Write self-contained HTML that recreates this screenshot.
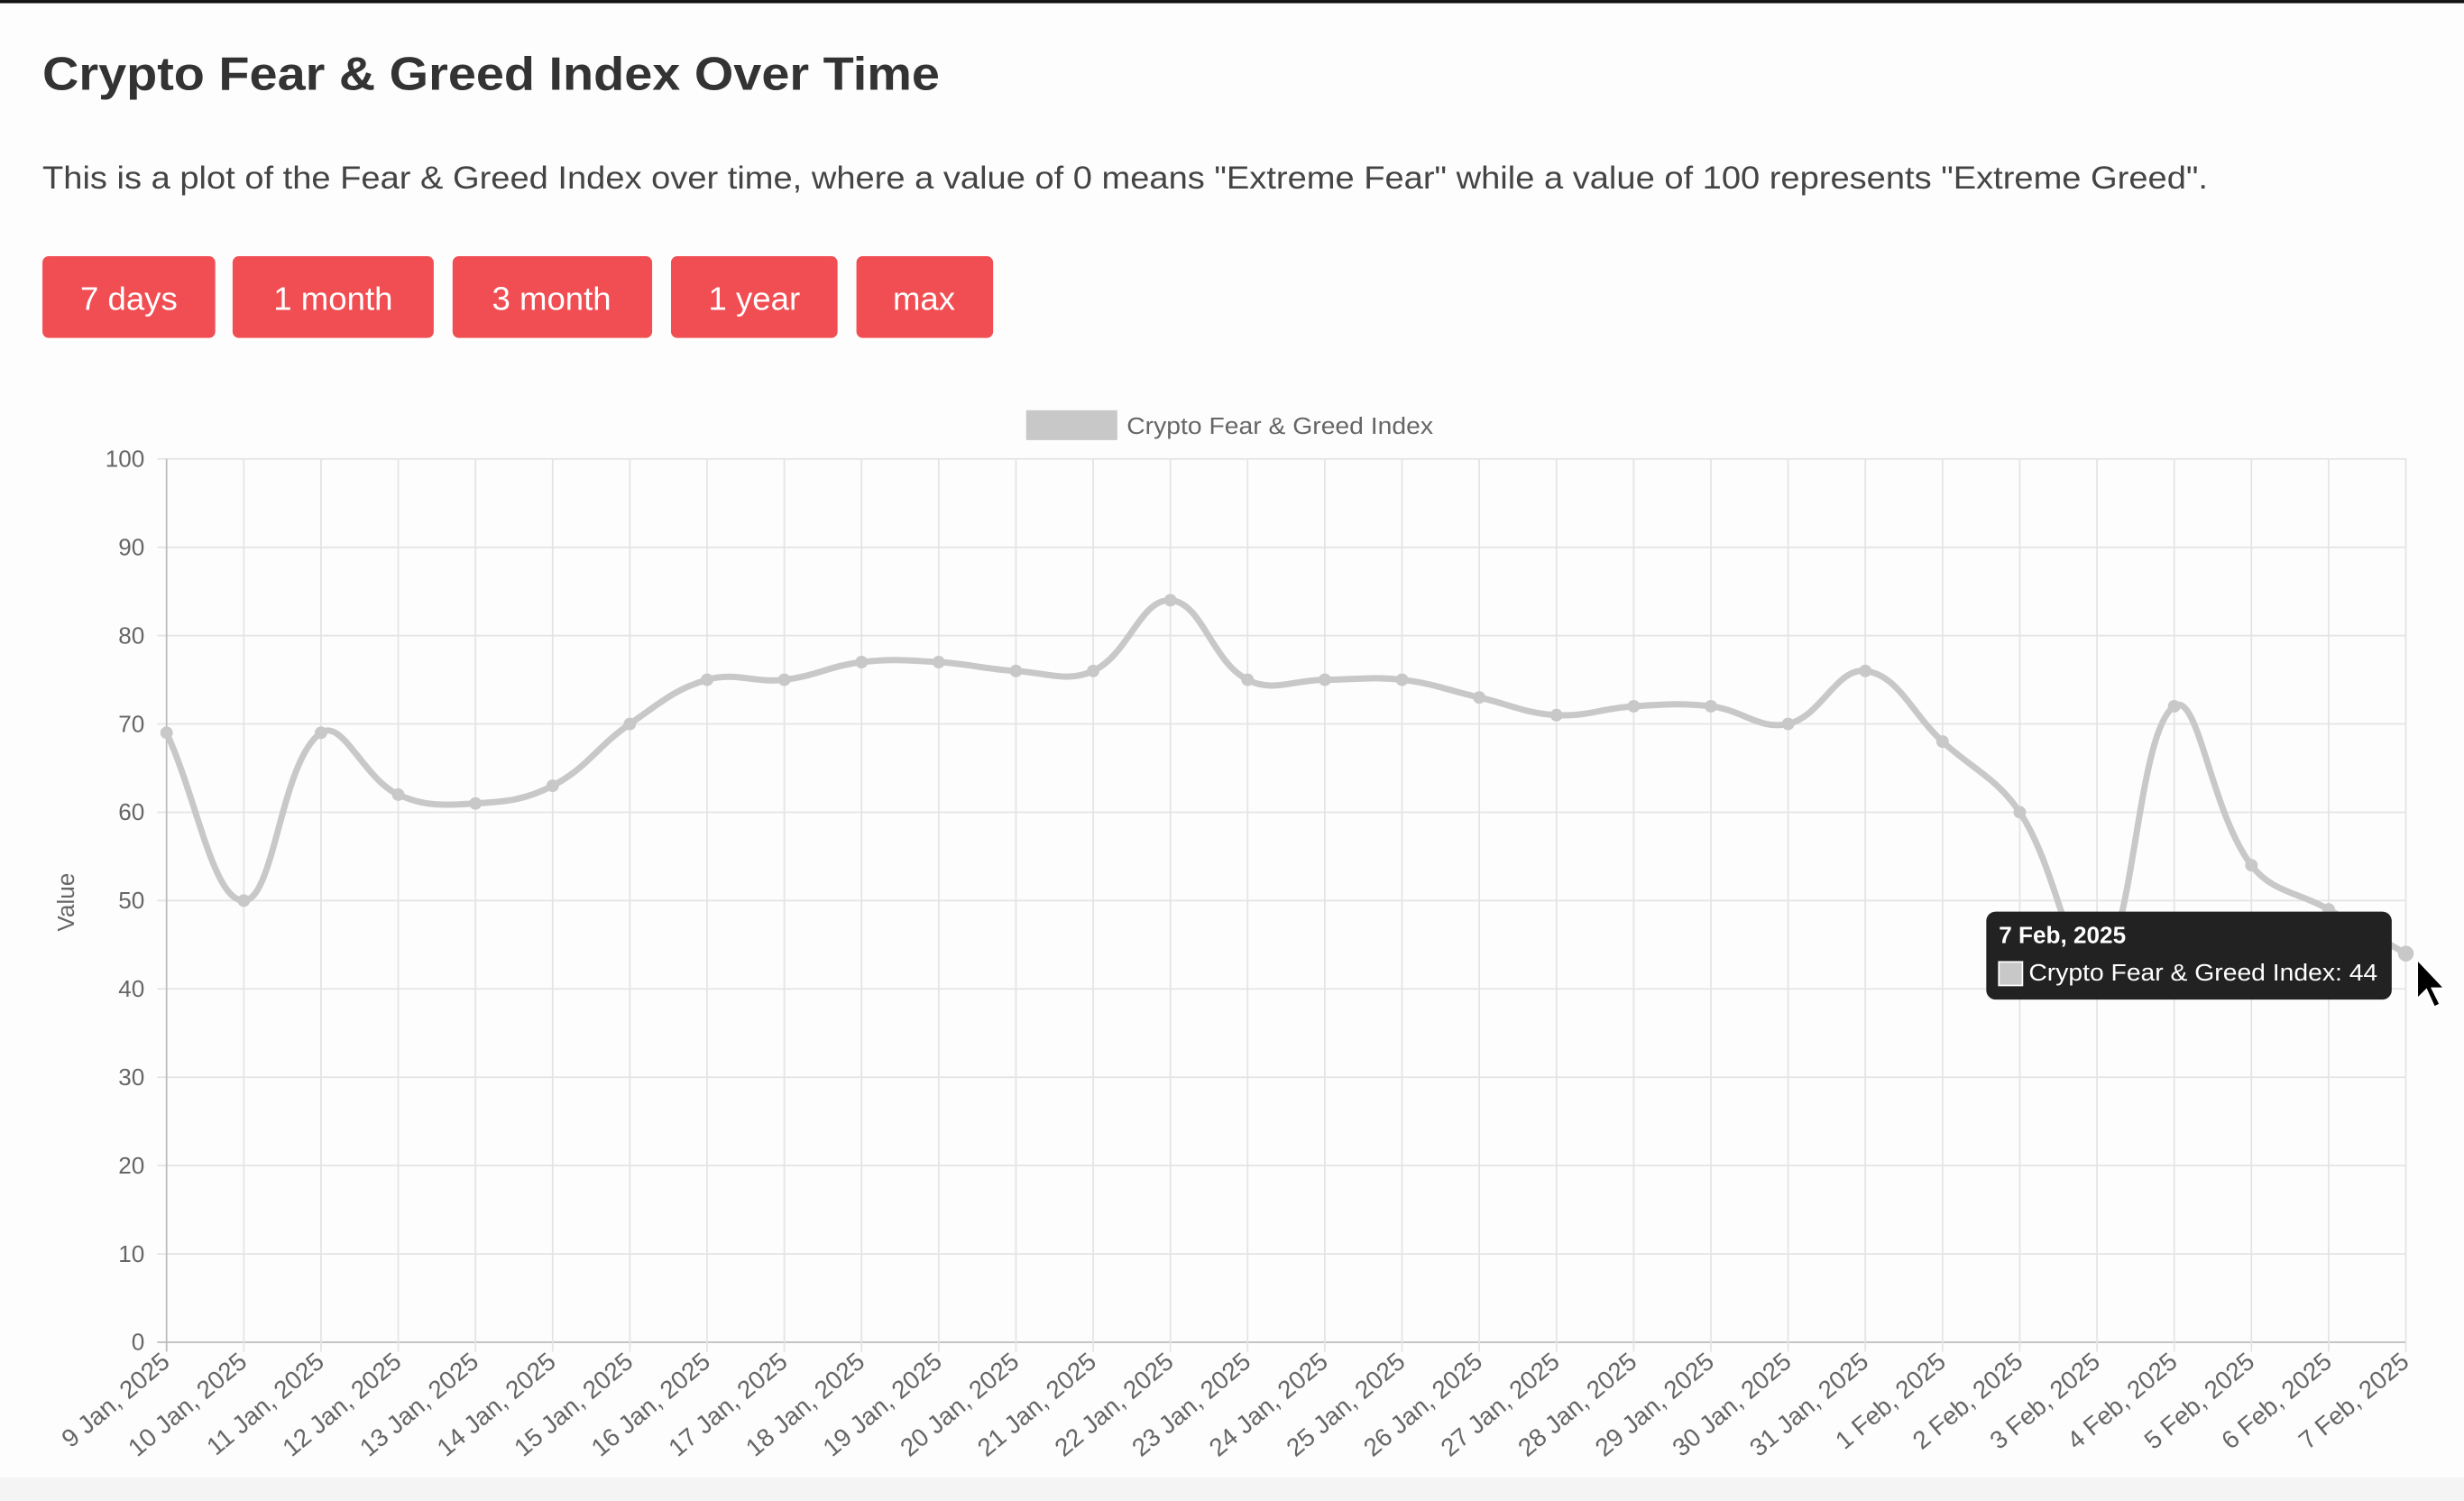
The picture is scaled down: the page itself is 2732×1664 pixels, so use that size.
<!DOCTYPE html>
<html><head><meta charset="utf-8"><style>
html,body{margin:0;padding:0;background:#fdfdfd;}
svg{display:block}
</style></head><body>
<svg id="s" width="2732" height="1664" viewBox="0 0 1568 955" xmlns="http://www.w3.org/2000/svg" font-family="Liberation Sans, sans-serif">
<rect x="0" y="0" width="1568" height="955" fill="#fdfdfd"/>
<rect x="0" y="940" width="1568" height="15" fill="#f4f4f4"/>
<rect x="0" y="0" width="1568" height="2" fill="#111"/>
<text x="27" y="57" font-size="30" font-weight="bold" fill="#333" textLength="571" lengthAdjust="spacingAndGlyphs">Crypto Fear &amp; Greed Index Over Time</text>
<text x="27" y="120" font-size="20" fill="#444" textLength="1378" lengthAdjust="spacingAndGlyphs">This is a plot of the Fear &amp; Greed Index over time, where a value of 0 means "Extreme Fear" while a value of 100 represents "Extreme Greed".</text>
<g fill="#f14e53">
<rect x="27" y="163" width="110" height="52" rx="4"/>
<rect x="148" y="163" width="128" height="52" rx="4"/>
<rect x="288" y="163" width="127" height="52" rx="4"/>
<rect x="427" y="163" width="106" height="52" rx="4"/>
<rect x="545" y="163" width="87" height="52" rx="4"/>
</g>
<g fill="#fff" font-size="21" text-anchor="middle">
<text x="82" y="197">7 days</text>
<text x="212" y="197">1 month</text>
<text x="351" y="197">3 month</text>
<text x="480" y="197">1 year</text>
<text x="588" y="197">max</text>
</g>
<rect x="653" y="261" width="58" height="19" fill="#c8c8c8"/>
<text x="717" y="276" font-size="15" fill="#666" textLength="195" lengthAdjust="spacingAndGlyphs">Crypto Fear &amp; Greed Index</text>
<g id="grid"></g>
<text transform="translate(47,574) rotate(-90)" font-size="15" fill="#666" text-anchor="middle">Value</text>
<path id="line" fill="none" stroke="#c8c8c8" stroke-width="4"/>
<g id="pts" fill="#c8c8c8"></g>
<rect x="1264" y="580" width="258" height="56" rx="6" fill="#222"/>
<text x="1272" y="600" font-size="15" font-weight="bold" fill="#fff">7 Feb, 2025</text>
<rect x="1272" y="612" width="15" height="15" fill="#c8c8c8" stroke="#fff" stroke-width="1"/>
<text x="1291" y="624" font-size="15" fill="#fff" textLength="222" lengthAdjust="spacingAndGlyphs">Crypto Fear &amp; Greed Index: 44</text>
<path d="M1538,610 L1538,636 L1544,630 L1549,641 L1553,639 L1548,629 L1556,629 Z" fill="#000" stroke="#fff" stroke-width="1.5"/>
</svg>
<script>
var NS="http://www.w3.org/2000/svg";
var g=document.getElementById("grid");
var L=106,R=1531,T=292,B=854;
function el(t,a,p,txt){var e=document.createElementNS(NS,t);for(var k in a)e.setAttribute(k,a[k]);if(txt!=null)e.textContent=txt;(p||g).appendChild(e);return e;}
var n=30,dx=(R-L)/(n-1);
for(var i=0;i<=10;i++){var y=B-i*(B-T)/10;
 el("line",{x1:L-6,x2:R,y1:y,y2:y,stroke:i==0?"#bbb":"#e4e4e4","stroke-width":1});
 el("text",{x:92,y:y+5,"font-size":15,fill:"#666","text-anchor":"end"},g,String(i*10));}
var labels=[];
for(var d=9;d<=31;d++)labels.push(d+" Jan, 2025");
for(var d=1;d<=7;d++)labels.push(d+" Feb, 2025");
for(var i=0;i<n;i++){var x=L+i*dx;
 el("line",{x1:x,x2:x,y1:T,y2:B+6,stroke:i==0?"#bbb":"#e4e4e4","stroke-width":1});
 el("text",{transform:"translate("+(x+3)+","+(B+14)+") rotate(-40)","font-size":16,fill:"#666","text-anchor":"end"},g,labels[i]);}
var v=[69,50,69,62,61,63,70,75,75,77,77,76,76,84,75,75,75,73,71,72,72,70,76,68,60,42,72,54,49,44];
var P=v.map(function(a,i){return [L+i*dx,B-a*(B-T)/100];});
var t=0.4,cp=[];
for(var i=0;i<n;i++){var pr=P[Math.max(i-1,0)],c=P[i],nx=P[Math.min(i+1,n-1)];
 var d1=Math.hypot(c[0]-pr[0],c[1]-pr[1]),d2=Math.hypot(nx[0]-c[0],nx[1]-c[1]);
 var s=d1+d2||1,fa=t*d1/s,fb=t*d2/s;
 cp.push([[c[0]-fa*(nx[0]-pr[0]),c[1]-fa*(nx[1]-pr[1])],[c[0]+fb*(nx[0]-pr[0]),c[1]+fb*(nx[1]-pr[1])]]);}
var d="M"+P[0][0]+","+P[0][1];
for(var i=1;i<n;i++){d+=" C"+cp[i-1][1][0]+","+cp[i-1][1][1]+" "+cp[i][0][0]+","+cp[i][0][1]+" "+P[i][0]+","+P[i][1];}
document.getElementById("line").setAttribute("d",d);
var pts=document.getElementById("pts");
P.forEach(function(p,i){el("circle",{cx:p[0],cy:p[1],r:i==n-1?5:4},pts);});
</script>
</body></html>
